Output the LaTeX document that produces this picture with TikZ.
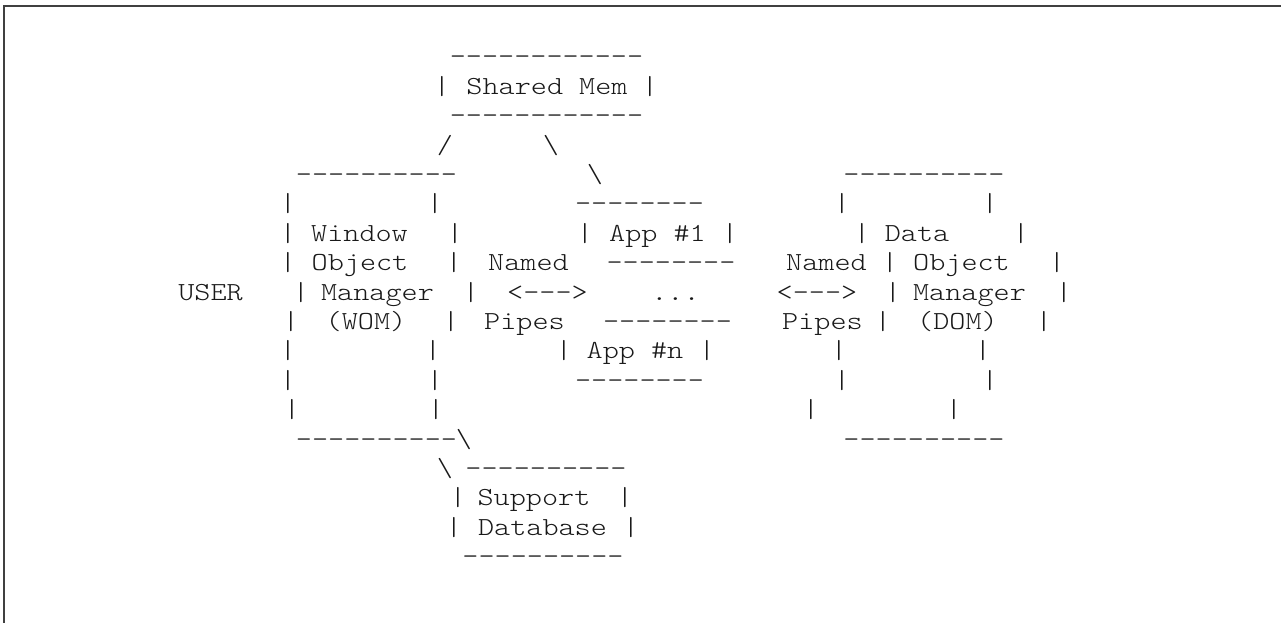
\documentclass[tikz,border=0pt]{standalone}
\usepackage{fontspec}
\usepackage{graphicx}
\newfontfamily\lightmono{lmmonolt10-regular.otf}
\newcounter{tokc}
\newcount\dashcnt
\makeatletter
\newcommand\dashrun[1]{\dashcnt=#1\relax\dashrun@loop}
\def\dashrun@loop{\ifnum\dashcnt>0 -{}\advance\dashcnt-1\relax\expandafter\dashrun@loop\fi}
\makeatother
\tikzset{
  tok/.style={anchor=base, inner sep=0pt, outer sep=0pt, text=black!90,
    font=\fontsize{26}{26}\selectfont\lightmono},
  frameline/.style={draw=black!75, line width=2pt}
}
% token: x-centre, row number, text
\newcommand\tk[3]{\stepcounter{tokc}\node[tok] (tok\arabic{tokc}) at (#1,{35.4+29.4*#2}) {\scalebox{1.18}[1]{#3}};}
\begin{document}
\begin{tikzpicture}[x=1pt,y=-1pt]
\useasboundingbox (0,0) rectangle (1281,622);
\coordinate (fbl) at (3.5,640);
\coordinate (ftr) at (1300,5.5);
\draw[frameline] (fbl) |- (ftr);
% row 1-3 Shared Mem
\tk{546.5}{1}{\dashrun{12}}
\tk{442}{2}{|} \tk{547}{2}{Shared Mem} \tk{650}{2}{|}
\tk{546.5}{3}{\dashrun{12}}
% row 4
\tk{445}{4}{/} \tk{551}{4}{\textbackslash}
% row 5
\tk{376.5}{5}{\dashrun{10}} \tk{595}{5}{\textbackslash} \tk{924}{5}{\dashrun{10}}
% row 6
\tk{288}{6}{|} \tk{435}{6}{|} \tk{639.5}{6}{\dashrun{8}} \tk{842}{6}{|} \tk{990}{6}{|}
% row 7
\tk{288}{7}{|} \tk{359.5}{7}{Window} \tk{455}{7}{|} \tk{585}{7}{|} \tk{657.5}{7}{App \#1} \tk{730}{7}{|} \tk{862}{7}{|} \tk{917}{7}{Data} \tk{1021}{7}{|}
% row 8
\tk{288}{8}{|} \tk{360}{8}{Object} \tk{454}{8}{|} \tk{528.5}{8}{Named} \tk{671}{8}{\dashrun{8}} \tk{826.5}{8}{Named} \tk{890}{8}{|} \tk{961.5}{8}{Object} \tk{1057}{8}{|}
% row 9
\tk{210.5}{9}{USER} \tk{301}{9}{|} \tk{377.5}{9}{Manager} \tk{471}{9}{|} \tk{547.5}{9}{<-{}-{}->} \tk{675.5}{9}{...} \tk{817}{9}{<-{}-{}->} \tk{893}{9}{|} \tk{969.5}{9}{Manager} \tk{1064}{9}{|}
% row 10
\tk{291}{10}{|} \tk{366}{10}{(WOM)} \tk{451}{10}{|} \tk{524.5}{10}{Pipes} \tk{667.5}{10}{\dashrun{8}} \tk{822.5}{10}{Pipes} \tk{883}{10}{|} \tk{957.5}{10}{(DOM)} \tk{1044}{10}{|}
% row 11
\tk{288}{11}{|} \tk{433}{11}{|} \tk{564}{11}{|} \tk{635}{11}{App \#n} \tk{707}{11}{|} \tk{839}{11}{|} \tk{983}{11}{|}
% row 12
\tk{288}{12}{|} \tk{435}{12}{|} \tk{639.5}{12}{\dashrun{8}} \tk{842}{12}{|} \tk{990}{12}{|}
% row 13
\tk{292}{13}{|} \tk{436}{13}{|} \tk{811}{13}{|} \tk{954}{13}{|}
% row 14
\tk{376.5}{14}{\dashrun{10}} \tk{464}{14}{\textbackslash} \tk{924}{14}{\dashrun{10}}
% row 15-18 Support Database
\tk{445}{15}{\textbackslash} \tk{546}{15}{\dashrun{10}}
\tk{458}{16}{|} \tk{534}{16}{Support} \tk{625}{16}{|}
\tk{454}{17}{|} \tk{542.5}{17}{Database} \tk{631}{17}{|}
\tk{543}{18}{\dashrun{10}}
\end{tikzpicture}
\end{document}
